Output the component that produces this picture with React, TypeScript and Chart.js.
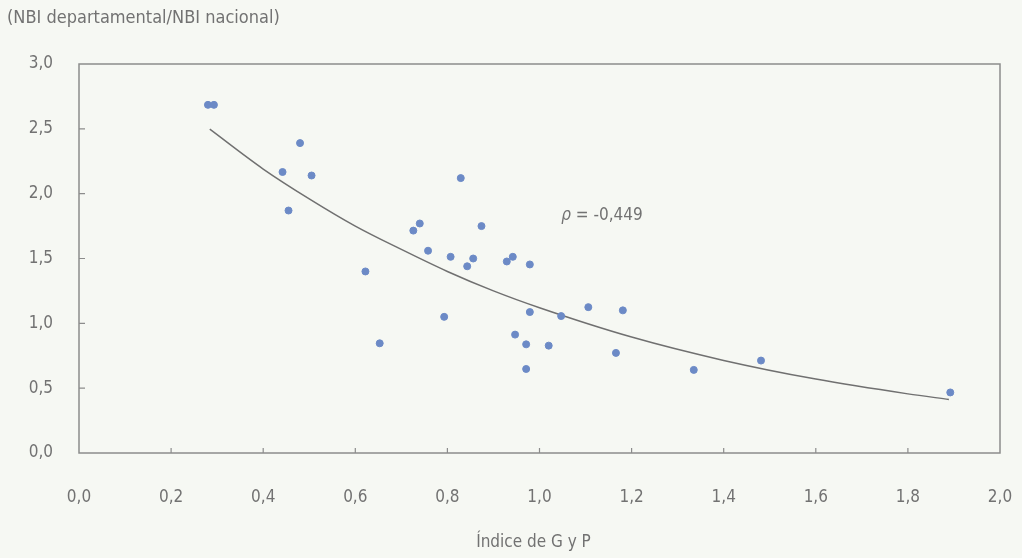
import React, { useEffect, useRef } from "react";
import { Chart, registerables } from "chart.js";

Chart.register(...registerables);

// Scatter data: Índice de G y P (x) vs NBI departamental/NBI nacional (y)
const pointX = [0.28, 0.293, 0.48, 0.442, 0.505, 0.455, 0.829, 0.74, 0.726, 0.874, 0.758, 0.807, 0.856, 0.843, 0.929, 0.942, 0.979, 0.622, 0.793, 0.979, 1.047, 1.106, 1.181, 0.947, 0.971, 1.02, 0.971, 1.166, 1.335, 1.481, 1.892, 0.653];
const pointY = [2.685, 2.685, 2.39, 2.167, 2.14, 1.87, 2.12, 1.77, 1.715, 1.75, 1.56, 1.513, 1.5, 1.44, 1.477, 1.513, 1.454, 1.4, 1.05, 1.087, 1.056, 1.125, 1.1, 0.913, 0.838, 0.828, 0.648, 0.772, 0.641, 0.713, 0.467, 0.846];

// Fitted trend curve
const trendX = [0.284, 0.4, 0.5, 0.6, 0.7, 0.8, 0.9, 1.0, 1.2, 1.4, 1.6, 1.8, 1.889];
const trendY = [2.497, 2.19, 1.96, 1.75, 1.57, 1.4, 1.25, 1.12, 0.894, 0.714, 0.57, 0.456, 0.413];

const xTicks = [0, 0.2, 0.4, 0.6, 0.8, 1.0, 1.2, 1.4, 1.6, 1.8, 2.0];
const yTicks = [0, 0.5, 1.0, 1.5, 2.0, 2.5, 3.0];

const yTitle = "(NBI departamental/NBI nacional)";
const xTitle = "Índice de G y P";
const rhoLabel = "-0,449";
const rhoPos = { x: 1.047, y: 1.83 };

const FONT = '"Liberation Sans Narrow", "DejaVu Sans Condensed", "Roboto", sans-serif';
const TEXT = "#727272";
const AXIS = "#8c8c8c";

const fmt = (v: number) => v.toFixed(1).replace(".", ",");

export default function App() {
  const ref = useRef<HTMLCanvasElement | null>(null);
  useEffect(() => {
    if (!ref.current) return;
    const decor = {
      id: "decor",
      afterDraw(chart: any) {
        const { ctx, chartArea: a, scales } = chart;
        const xs = scales.x, ys = scales.y;
        ctx.save();
        ctx.strokeStyle = AXIS;
        ctx.lineWidth = 1.5;
        ctx.strokeRect(a.left, a.top, a.right - a.left, a.bottom - a.top);
        ctx.lineWidth = 1.2;
        ctx.beginPath();
        xTicks.slice(1, -1).forEach((v) => {
          const px = xs.getPixelForValue(v);
          ctx.moveTo(px, a.bottom);
          ctx.lineTo(px, a.bottom - 5);
        });
        yTicks.slice(1, -1).forEach((v) => {
          const py = ys.getPixelForValue(v);
          ctx.moveTo(a.left, py);
          ctx.lineTo(a.left + 6, py);
        });
        ctx.stroke();
        ctx.fillStyle = TEXT;
        ctx.textBaseline = "middle";
        ctx.textAlign = "left";
        ctx.font = `18px ${FONT}`;
        ctx.fillText(yTitle, 7, 18);
        ctx.textAlign = "center";
        ctx.font = `17px ${FONT}`;
        ctx.fillText(xTitle, (a.left + a.right) / 2 - 6, 543);
        const rx = xs.getPixelForValue(rhoPos.x);
        const ry = ys.getPixelForValue(rhoPos.y);
        ctx.textAlign = "left";
        ctx.font = `italic 17px ${FONT}`;
        ctx.fillText("ρ", rx, ry);
        const w = ctx.measureText("ρ").width;
        ctx.font = `17px ${FONT}`;
        ctx.fillText(" = " + rhoLabel, rx + w, ry);
        ctx.restore();
      },
    };
    const chart = new Chart(ref.current, {
      type: "scatter",
      data: {
        datasets: [
          {
            type: "scatter",
            data: pointX.map((x, i) => ({ x, y: pointY[i] })),
            backgroundColor: "#6c8ac6",
            borderColor: "#6c8ac6",
            pointRadius: 3.5,
            pointHoverRadius: 3.5,
          },
          {
            type: "line",
            data: trendX.map((x, i) => ({ x, y: trendY[i] })),
            borderColor: "#707070",
            borderWidth: 1.5,
            pointRadius: 0,
            fill: false,
            cubicInterpolationMode: "monotone",
          } as any,
        ],
      },
      options: {
        animation: false,
        responsive: false,
        layout: { padding: { top: 64, right: 22, left: 0, bottom: 0 } },
        plugins: { legend: { display: false }, tooltip: { enabled: false } },
        scales: {
          x: {
            type: "linear",
            min: 0,
            max: 2,
            afterBuildTicks: (s: any) => {
              s.ticks = xTicks.map((v) => ({ value: v }));
            },
            afterFit: (s: any) => {
              s.height = 105;
              s.paddingLeft = 0;
              s.paddingRight = 0;
            },
            grid: { display: false, drawTicks: false },
            border: { display: false },
            ticks: {
              color: TEXT,
              font: { family: FONT, size: 17 },
              padding: 34,
              maxRotation: 0,
              callback: (v: any) => fmt(Number(v)),
            },
          },
          y: {
            type: "linear",
            min: 0,
            max: 3,
            afterBuildTicks: (s: any) => {
              s.ticks = yTicks.map((v) => ({ value: v }));
            },
            afterFit: (s: any) => {
              s.width = 79;
              s.paddingTop = 0;
              s.paddingBottom = 0;
            },
            grid: { display: false, drawTicks: false },
            border: { display: false },
            ticks: {
              color: TEXT,
              font: { family: FONT, size: 17 },
              padding: 26,
              callback: (v: any) => fmt(Number(v)),
            },
          },
        },
      },
      plugins: [decor],
    } as any);
    return () => chart.destroy();
  }, []);
  return (
    <div style={{ position: "absolute", left: 0, top: 0, width: 1022, height: 558, background: "#f6f8f3" }}>
      <canvas ref={ref} width={1022} height={558} style={{ display: "block" }} />
    </div>
  );
}
